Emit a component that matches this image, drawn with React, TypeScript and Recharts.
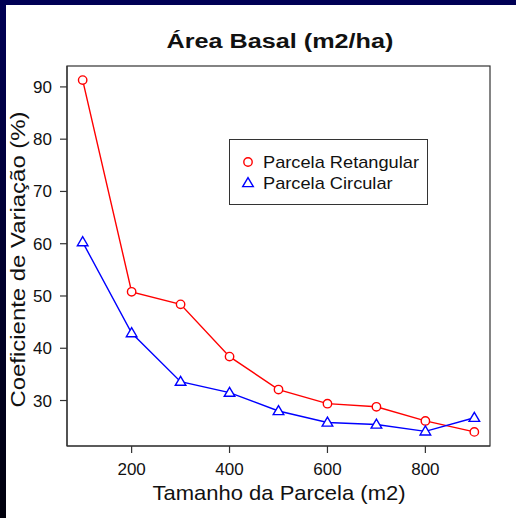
import React from 'react';
import { LineChart, Line, XAxis, YAxis, Legend } from 'recharts';

const sizes = [100, 200, 300, 400, 500, 600, 700, 800, 900];
const retangular = [91.3, 50.8, 48.4, 38.4, 32.1, 29.4, 28.8, 26.1, 24.0];
const circular = [60.3, 42.9, 33.6, 31.5, 28.0, 25.8, 25.4, 24.1, 26.7];
const xTicks = [200, 400, 600, 800];
const yTicks = [30, 40, 50, 60, 70, 80, 90];
const seriesNames = ['Parcela Retangular', 'Parcela Circular'];
const seriesColors = ['#ff0000', '#0000ff'];

const data = sizes.map((s, i) => ({ size: s, ret: retangular[i], circ: circular[i] }));

const FONT = '"Liberation Sans", Arial, Helvetica, sans-serif';
const INK = '#111';
const FRAME = '#333';

function CircleDot(props: any) {
  const { cx, cy } = props;
  if (cx == null || cy == null) return null;
  return <circle cx={cx} cy={cy} r={4.2} fill="#fff" stroke="#ff0000" strokeWidth={1.4} />;
}

function TriangleDot(props: any) {
  const { cx, cy } = props;
  if (cx == null || cy == null) return null;
  const pts = `${cx - 5.3},${cy + 3.6} ${cx + 5.3},${cy + 3.6} ${cx},${cy - 5.4}`;
  return <polygon points={pts} fill="#fff" stroke="#0000ff" strokeWidth={1.4} />;
}

function LegendBox() {
  return (
    <div
      style={{
        width: 199,
        height: 66,
        boxSizing: 'border-box',
        border: `1.2px solid ${FRAME}`,
        background: '#fff',
        position: 'relative',
      }}
    >
      <svg width={199} height={66} style={{ position: 'absolute', left: -1, top: -1 }}>
        <circle cx={19} cy={23} r={4.2} fill="#fff" stroke={seriesColors[0]} strokeWidth={1.4} />
        <polygon
          points={`${19 - 5.3},${44 + 3.6} ${19 + 5.3},${44 + 3.6} 19,${44 - 5.4}`}
          fill="#fff"
          stroke={seriesColors[1]}
          strokeWidth={1.4}
        />
        {seriesNames.map((n, i) => (
          <text
            key={n}
            transform={`translate(34,${29 + i * 21}) scale(1.14,1)`}
            fontFamily={FONT}
            fontSize={16}
            fill={INK}
          >
            {n}
          </text>
        ))}
      </svg>
    </div>
  );
}

export default function App() {
  return (
    <div
      style={{
        position: 'absolute',
        left: 0,
        top: 0,
        width: 516,
        height: 518,
        background: 'linear-gradient(to bottom, #000055, #00000c)',
        overflow: 'hidden',
      }}
    >
      <div style={{ position: 'absolute', left: 6, top: 5, right: 0, bottom: 0, background: '#fff' }} />
      <div style={{ position: 'absolute', left: 0, top: 0 }}>
        <LineChart
          width={516}
          height={518}
          data={data}
          margin={{ top: 66, right: 26, left: 7, bottom: 32 }}
        >
          <XAxis
            dataKey="size"
            type="number"
            domain={[68, 932]}
            ticks={xTicks}
            allowDataOverflow
            height={40}
            tickSize={7}
            tickMargin={10}
            tick={{ fontSize: 17, fill: INK, fontFamily: FONT }}
            stroke={FRAME}
            axisLine={{ stroke: FRAME, strokeWidth: 1.2 }}
            tickLine={{ stroke: FRAME, strokeWidth: 1.2 }}
          />
          <YAxis
            type="number"
            domain={[21.3, 94]}
            ticks={yTicks}
            allowDataOverflow
            width={60}
            tickSize={7}
            tickMargin={8}
            tick={{ fontSize: 17, fill: INK, fontFamily: FONT }}
            axisLine={{ stroke: FRAME, strokeWidth: 1.2 }}
            tickLine={{ stroke: FRAME, strokeWidth: 1.2 }}
          />
          <Line
            dataKey="ret"
            name={seriesNames[0]}
            stroke={seriesColors[0]}
            strokeWidth={1.4}
            dot={<CircleDot />}
            activeDot={false}
            isAnimationActive={false}
          />
          <Line
            dataKey="circ"
            name={seriesNames[1]}
            stroke={seriesColors[1]}
            strokeWidth={1.4}
            dot={<TriangleDot />}
            activeDot={false}
            isAnimationActive={false}
          />
          <Legend
            layout="horizontal"
            verticalAlign="middle"
            align="center"
            content={() => <LegendBox />}
            wrapperStyle={{ position: 'absolute', left: 229, top: 139, width: 199, height: 66 }}
          />
        </LineChart>
      </div>
      <svg
        width={516}
        height={518}
        style={{ position: 'absolute', left: 0, top: 0, pointerEvents: 'none' }}
      >
        {/* plot box, same bounds as the chart's plot area (margins + axis sizes) */}
        <rect x={67} y={66} width={423} height={380} fill="none" stroke={FRAME} strokeWidth={1.2} />
        <text
          transform="translate(280,48) scale(1.2,1)"
          textAnchor="middle"
          fontFamily={FONT}
          fontWeight="bold"
          fontSize={21}
          fill={INK}
        >
          Área Basal (m2/ha)
        </text>
        <text
          transform="translate(279,500) scale(1.1,1)"
          textAnchor="middle"
          fontFamily={FONT}
          fontSize={20}
          fill={INK}
        >
          Tamanho da Parcela (m2)
        </text>
        <text
          transform="translate(25,259.5) rotate(-90) scale(1.14,1)"
          textAnchor="middle"
          fontFamily={FONT}
          fontSize={21}
          fill={INK}
        >
          Coeficiente de Variação (%)
        </text>
      </svg>
    </div>
  );
}
